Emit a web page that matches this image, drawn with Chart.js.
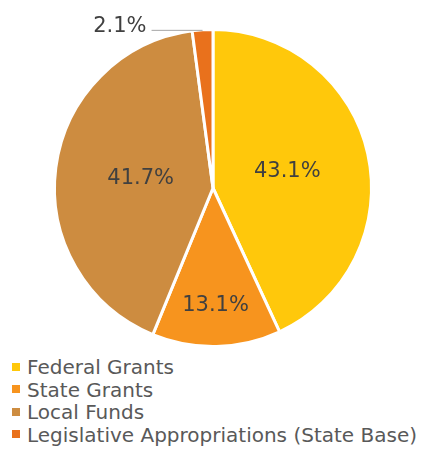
<!DOCTYPE html>
<html>
<head>
<meta charset="utf-8">
<script src="https://cdn.jsdelivr.net/npm/chart.js@4.4.0/dist/chart.umd.min.js"></script>
<style>
  html,body{margin:0;padding:0;background:#fff;}
  #wrap{position:relative;width:423px;height:450px;overflow:hidden;}
  #chartBox{position:absolute;left:0;top:0;width:423px;height:350px;}
  #legend{position:absolute;left:12px;top:356px;font-family:"DejaVu Sans",sans-serif;font-size:20px;color:#595959;}
  #legend .item{height:22.5px;line-height:22.5px;white-space:nowrap;}
  #legend .sw{display:inline-block;width:8px;height:8px;margin-right:7px;vertical-align:middle;position:relative;top:-2px;}
</style>
</head>
<body>
<div id="wrap">
  <div id="chartBox"><canvas id="pie"></canvas></div>
  <div id="legend"></div>
</div>
<script>
// Data
const categories = ['Federal Grants', 'State Grants', 'Local Funds', 'Legislative Appropriations (State Base)'];
const shares = [43.1, 13.1, 41.7, 2.1];
const colors = ['#FFC80B', '#F7941E', '#CD8C40', '#E9711C'];

// Slice labels: inside ones pushed out by a fraction of the radius, the tiny slice gets a leader line
const sliceLabels = {
  id: 'sliceLabels',
  afterDatasetsDraw(chart, args, opts) {
    const ctx = chart.ctx;
    const meta = chart.getDatasetMeta(0);
    ctx.save();
    ctx.fillStyle = '#404040';
    ctx.font = '21px "DejaVu Sans", sans-serif';
    meta.data.forEach((arc, i) => {
      const p = arc.getProps(['x','y','startAngle','endAngle','outerRadius'], true);
      const mid = (p.startAngle + p.endAngle) / 2;
      const txt = shares[i].toFixed(1) + '%';
      if (opts.outside.includes(i)) {
        const ex = p.x + p.outerRadius * Math.cos(mid);
        const ey = p.y + p.outerRadius * Math.sin(mid);
        ctx.strokeStyle = '#A6A6A6'; ctx.lineWidth = 1;
        ctx.beginPath(); ctx.moveTo(ex, ey + 0.5); ctx.lineTo(ex - 51, ey + 0.5); ctx.stroke();
        ctx.textAlign = 'right'; ctx.textBaseline = 'alphabetic';
        ctx.fillText(txt, ex - 56, ey + 2);
      } else {
        const r = p.outerRadius * opts.radial[i];
        ctx.textAlign = 'center'; ctx.textBaseline = 'middle';
        ctx.fillText(txt, p.x + r * Math.cos(mid), p.y + r * Math.sin(mid));
      }
    });
    ctx.restore();
  }
};

new Chart(document.getElementById('pie'), {
  type: 'pie',
  data: {
    labels: categories,
    datasets: [{ data: shares, backgroundColor: colors, borderColor: '#ffffff', borderWidth: 3, hoverOffset: 0 }]
  },
  options: {
    responsive: true,
    maintainAspectRatio: false,
    animation: false,
    layout: { padding: { top: 28, bottom: 2, left: 3 } },
    plugins: {
      legend: { display: false },
      tooltip: { enabled: false },
      sliceLabels: { radial: [0.48, 0.74, 0.46, 0], outside: [3] }
    }
  },
  plugins: [sliceLabels]
});

// Legend
const legend = document.getElementById('legend');
categories.forEach((c, i) => {
  const el = document.createElement('div'); el.className = 'item';
  el.innerHTML = `<span class="sw" style="background:${colors[i]}"></span>${c}`;
  legend.appendChild(el);
});
</script>
</body>
</html>
